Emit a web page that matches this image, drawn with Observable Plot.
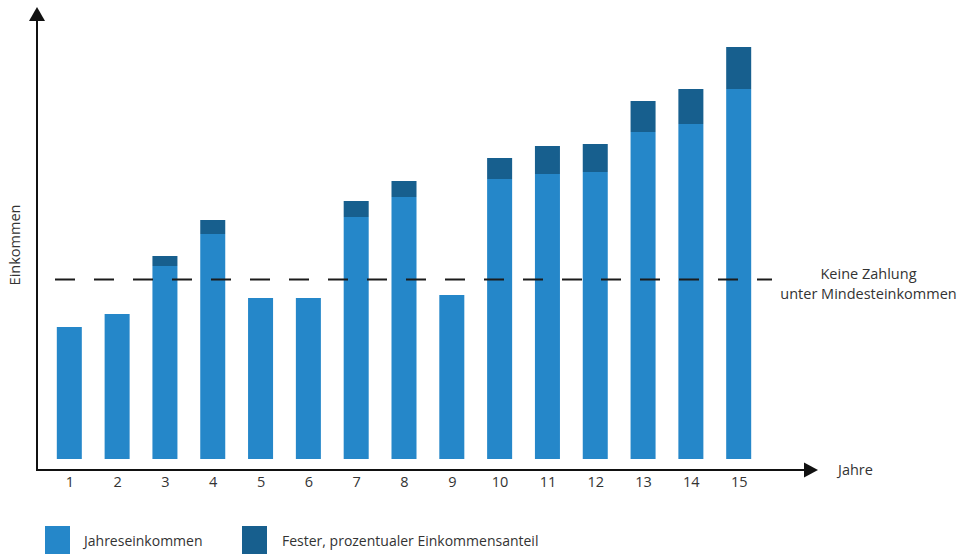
<!DOCTYPE html>
<html>
<head>
<meta charset="utf-8">
<script src="https://cdn.jsdelivr.net/npm/d3@7"></script>
<script src="https://cdn.jsdelivr.net/npm/@observablehq/plot@0.6"></script>
<style>
  html, body { margin: 0; padding: 0; background: #fff; }
  body { width: 968px; height: 554px; overflow: hidden; font-family: "Open Sans", sans-serif; }
  #wrap { position: relative; width: 968px; height: 554px; }
  #legend { position: absolute; left: 0; top: 515px; width: 968px; height: 39px; font-size: 14px; color: #333; }
  .sw { position: absolute; top: 11px; width: 25px; height: 28px; }
  .lt { position: absolute; top: 16px; line-height: 20px; white-space: nowrap; }
</style>
</head>
<body>
<div id="wrap">
  <div id="chart"></div>
  <div id="legend"></div>
</div>
<script>
// ---- data ----
const years = ["1","2","3","4","5","6","7","8","9","10","11","12","13","14","15"];
const annualIncome = [132, 145, 193, 225, 161, 161, 242, 262, 164, 280, 285, 287, 327, 335, 370];
const fixedShare   = [0, 0, 10, 14, 0, 0, 16, 16, 0, 21, 28, 28, 31, 35, 42];
const minimumIncome = 180;
const seriesNames = ["Jahreseinkommen", "Fester, prozentualer Einkommensanteil"];
const seriesColors = ["#2587c9", "#175f8e"];
const noteText = "Keine Zahlung\nunter Mindesteinkommen";
const xLabel = "Jahre";
const yLabel = "Einkommen";

const rows = [];
years.forEach((y, i) => {
  rows.push({year: y, series: seriesNames[0], value: annualIncome[i]});
  rows.push({year: y, series: seriesNames[1], value: fixedShare[i]});
});

const W = 968, H = 515;
const plot = Plot.plot({
  width: W,
  height: H,
  marginLeft: 34,
  marginRight: 194,
  marginTop: 7,
  marginBottom: 56,
  style: {fontFamily: "'Open Sans', sans-serif", fontSize: "14px", color: "#333", background: "transparent"},
  x: {type: "band", domain: years, padding: 0.477, round: false, label: null},
  y: {domain: [0, 452], axis: null},
  color: {domain: seriesNames, range: seriesColors},
  marks: [
    Plot.barY(rows, {x: "year", y: "value", fill: "series", order: seriesNames}),
    Plot.ruleY([minimumIncome], {stroke: "#1b1b1b", strokeWidth: 2, strokeDasharray: "20,19", insetLeft: 21, insetRight: 2}),
    Plot.text([noteText], {frameAnchor: "right", y: () => minimumIncome, dx: 94, dy: 3, textAnchor: "middle", lineHeight: 1.36, fontSize: 14.5, fill: "#333"}),
    Plot.axisX({tickSize: 0, tickPadding: 17, fontSize: 14.5, fill: "#333", label: null})
  ]
});
document.getElementById("chart").appendChild(plot);

// axes with arrowheads
const ys = plot.scale("y");
const svg = d3.select(plot);
const baseY = ys.apply(0) + 11;
const axisX0 = 37;
const arrowXEnd = 818, arrowYEnd = 7;
const g = svg.append("g").attr("fill", "#111").attr("stroke", "#111");
g.append("line").attr("x1", axisX0).attr("x2", arrowXEnd - 12).attr("y1", baseY).attr("y2", baseY).attr("stroke-width", 2);
g.append("path").attr("stroke", "none").attr("d", `M${arrowXEnd},${baseY} L${arrowXEnd-14},${baseY-7.5} L${arrowXEnd-14},${baseY+7.5} Z`);
g.append("line").attr("x1", axisX0).attr("x2", axisX0).attr("y1", baseY + 1).attr("y2", arrowYEnd + 12).attr("stroke-width", 2);
g.append("path").attr("stroke", "none").attr("d", `M${axisX0},${arrowYEnd} L${axisX0-8},${arrowYEnd+14} L${axisX0+8},${arrowYEnd+14} Z`);
svg.append("text").attr("x", 838).attr("y", baseY).attr("dy", "0.35em").attr("text-anchor", "start").attr("fill", "#333").attr("font-size", 14.5).text(xLabel);
svg.append("text").attr("transform", `translate(15,${245}) rotate(-90)`).attr("text-anchor", "middle").attr("dy", "0.35em").attr("fill", "#333").attr("font-size", 14.5).text(yLabel);

// legend
const legend = document.getElementById("legend");
const legendPos = [[45, 84], [242, 282]];
seriesNames.forEach((name, i) => {
  const sw = document.createElement("div");
  sw.className = "sw"; sw.style.left = legendPos[i][0] + "px"; sw.style.background = seriesColors[i];
  const t = document.createElement("div");
  t.className = "lt"; t.style.left = legendPos[i][1] + "px"; t.textContent = name;
  legend.appendChild(sw); legend.appendChild(t);
});
</script>
</body>
</html>
